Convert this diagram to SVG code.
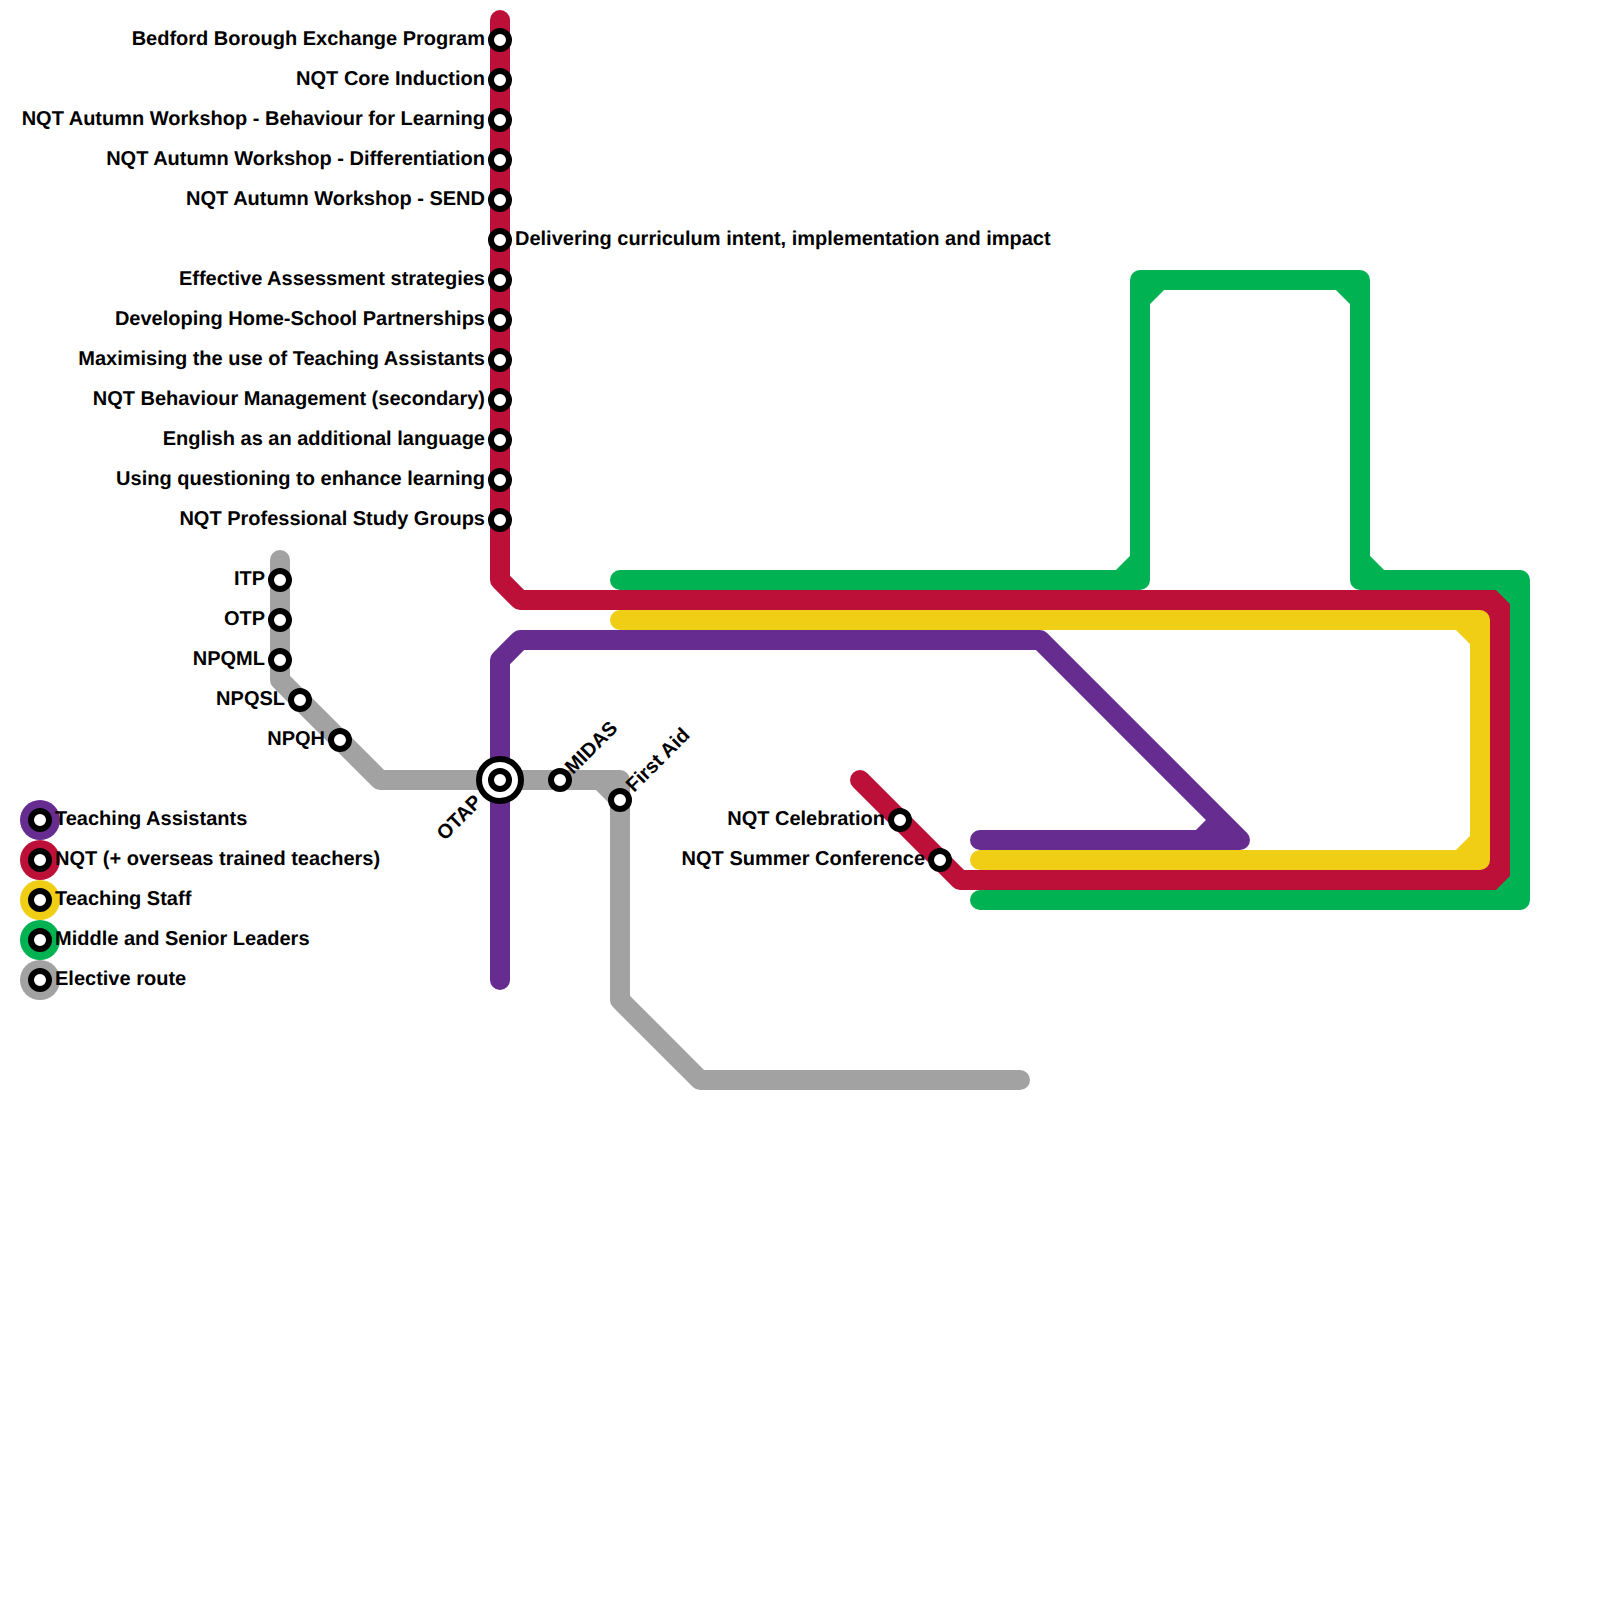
<svg xmlns="http://www.w3.org/2000/svg" width="1600" height="1600" viewBox="0 0 1600 1600">
<style>
.l{fill:none;stroke-width:20;stroke-linecap:round;stroke-linejoin:round}
.s{fill:#fff;stroke:#000;stroke-width:6}
.i{fill:#fff;stroke:#000;stroke-width:6}
text{font-family:"Liberation Sans",Arial,sans-serif;font-weight:700;font-size:20px;fill:#000;text-rendering:geometricPrecision}
.e{text-anchor:end}
</style>
<defs><circle id="st" r="9" class="s"/></defs>
<rect width="1600" height="1600" fill="#fff"/>
<g id="connectors">
<path class="l" stroke="#662c90" d="M500,980V660L520,640H1040L1240,840H980M1200,840L1220,820"/>
<path class="l" stroke="#bd1038" d="M500,20V580L520,600H1500V880H960L860,780M1480,600L1500,620M1500,860L1480,880"/>
<path class="l" stroke="#f0ce15" d="M620,620H1480V860H980M1460,620L1480,640M1480,840L1460,860"/>
<path class="l" stroke="#00b251" d="M620,580H1140V280H1360V580H1520V900H980M1120,580L1140,560M1140,300L1160,280M1340,280L1360,300M1360,560L1380,580M1500,580L1520,600M1520,880L1500,900"/>
<path class="l" stroke="#a2a2a2" d="M280,560V680L380,780H620V1000L700,1080H1020M600,780L620,800"/>
</g>
<g id="n01"><use href="#st" x="500" y="40"/><text class="e" x="485" y="45">Bedford Borough Exchange Program</text></g>
<g id="n02"><use href="#st" x="500" y="80"/><text class="e" x="485" y="85">NQT Core Induction</text></g>
<g id="n03"><use href="#st" x="500" y="120"/><text class="e" x="485" y="125">NQT Autumn Workshop - Behaviour for Learning</text></g>
<g id="n04"><use href="#st" x="500" y="160"/><text class="e" x="485" y="165">NQT Autumn Workshop - Differentiation</text></g>
<g id="n05"><use href="#st" x="500" y="200"/><text class="e" x="485" y="205">NQT Autumn Workshop - SEND</text></g>
<g id="n06"><use href="#st" x="500" y="240"/><text x="515" y="245">Delivering curriculum intent, implementation and impact</text></g>
<g id="n07"><use href="#st" x="500" y="280"/><text class="e" x="485" y="285">Effective Assessment strategies</text></g>
<g id="n08"><use href="#st" x="500" y="320"/><text class="e" x="485" y="325">Developing Home-School Partnerships</text></g>
<g id="n09"><use href="#st" x="500" y="360"/><text class="e" x="485" y="365">Maximising the use of Teaching Assistants</text></g>
<g id="n10"><use href="#st" x="500" y="400"/><text class="e" x="485" y="405">NQT Behaviour Management (secondary)</text></g>
<g id="n11"><use href="#st" x="500" y="440"/><text class="e" x="485" y="445">English as an additional language</text></g>
<g id="n12"><use href="#st" x="500" y="480"/><text class="e" x="485" y="485">Using questioning to enhance learning</text></g>
<g id="n13"><use href="#st" x="500" y="520"/><text class="e" x="485" y="525">NQT Professional Study Groups</text></g>
<g id="n14"><use href="#st" x="280" y="580"/><text class="e" x="265" y="585">ITP</text></g>
<g id="n15"><use href="#st" x="280" y="620"/><text class="e" x="265" y="625">OTP</text></g>
<g id="n16"><use href="#st" x="280" y="660"/><text class="e" x="265" y="665">NPQML</text></g>
<g id="n17"><use href="#st" x="300" y="700"/><text class="e" x="285" y="705">NPQSL</text></g>
<g id="n18"><use href="#st" x="340" y="740"/><text class="e" x="325" y="745">NPQH</text></g>
<g id="n19"><circle class="i" cx="500" cy="780" r="21"/><use href="#st" x="500" y="780"/><text class="e" transform="translate(483,803) rotate(-45)">OTAP</text></g>
<g id="n20"><use href="#st" x="560" y="780"/><text transform="translate(573,775) rotate(-45)">MIDAS</text></g>
<g id="n21"><use href="#st" x="620" y="800"/><text transform="translate(634,793) rotate(-45)">First Aid</text></g>
<g id="n22"><use href="#st" x="900" y="820"/><text class="e" x="885" y="825">NQT Celebration</text></g>
<g id="n23"><use href="#st" x="940" y="860"/><text class="e" x="925" y="865">NQT Summer Conference</text></g>
<g id="legend-ta"><circle cx="40" cy="820" r="20" fill="#662c90"/><use href="#st" x="40" y="820"/><text x="55" y="825">Teaching Assistants</text></g>
<g id="legend-nqt"><circle cx="40" cy="860" r="20" fill="#bd1038"/><use href="#st" x="40" y="860"/><text x="55" y="865">NQT (+ overseas trained teachers)</text></g>
<g id="legend-staff"><circle cx="40" cy="900" r="20" fill="#f0ce15"/><use href="#st" x="40" y="900"/><text x="55" y="905">Teaching Staff</text></g>
<g id="legend-leaders"><circle cx="40" cy="940" r="20" fill="#00b251"/><use href="#st" x="40" y="940"/><text x="55" y="945">Middle and Senior Leaders</text></g>
<g id="legend-elective"><circle cx="40" cy="980" r="20" fill="#a2a2a2"/><use href="#st" x="40" y="980"/><text x="55" y="985">Elective route</text></g>
</svg>
